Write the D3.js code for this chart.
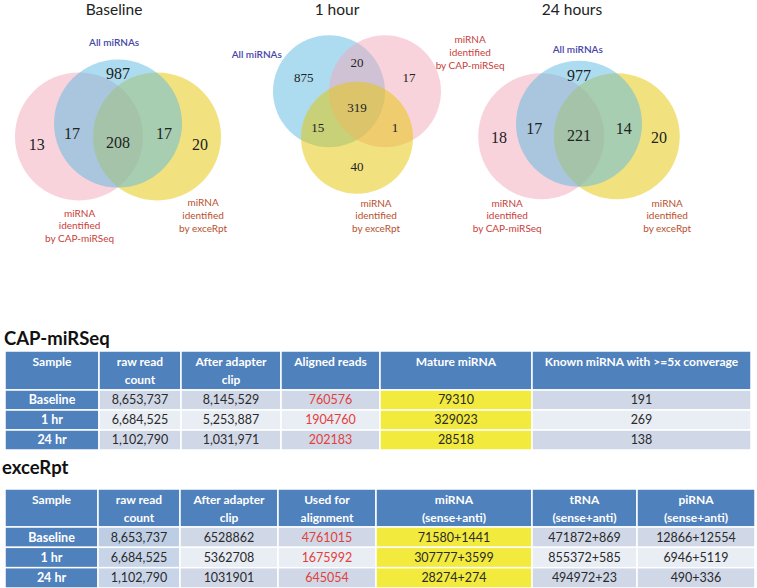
<!DOCTYPE html>
<html><head><meta charset="utf-8">
<script src="https://cdn.jsdelivr.net/npm/d3@7"></script>
<style>body{margin:0;background:#fff}svg{display:block}</style>
</head><body>
<svg id="c" width="757" height="588"></svg>
<script>
// ---------- DATA ----------
const vennTitles = ["Baseline", "1 hour", "24 hours"];
// region counts: [blueOnly, pinkOnly, yellowOnly, bluePink, blueYellow, pinkYellow, all]
const baselineCounts = [987, 13, 20, 17, 17, null, 208];
const oneHourCounts  = [875, 17, 40, 20, 15, 1, 319];
const day24Counts    = [977, 18, 20, 17, 14, null, 221];
const setAll = "All miRNAs";
const setCap = ["miRNA", "identified", "by CAP-miRSeq"];
const setExc = ["miRNA", "identified", "by exceRpt"];

const capTitle = "CAP-miRSeq";
const capHeaders = [["Sample"], ["raw read", "count"], ["After adapter", "clip"], ["Aligned reads"], ["Mature miRNA"], ["Known miRNA with >=5x converage"]];
const samples = ["Baseline", "1 hr", "24 hr"];
const capRaw = ["8,653,737", "6,684,525", "1,102,790"];
const capClip = ["8,145,529", "5,253,887", "1,031,971"];
const capAligned = ["760576", "1904760", "202183"];
const capMature = ["79310", "329023", "28518"];
const capKnown = ["191", "269", "138"];

const excTitle = "exceRpt";
const excHeaders = [["Sample"], ["raw read", "count"], ["After adapter", "clip"], ["Used for", "alignment"], ["miRNA", "(sense+anti)"], ["tRNA", "(sense+anti)"], ["piRNA", "(sense+anti)"]];
const excRaw = ["8,653,737", "6,684,525", "1,102,790"];
const excClip = ["6528862", "5362708", "1031901"];
const excUsed = ["4761015", "1675992", "645054"];
const excMirna = ["71580+1441", "307777+3599", "28274+274"];
const excTrna = ["471872+869", "855372+585", "494972+23"];
const excPirna = ["12866+12554", "6946+5119", "490+336"];

// ---------- LAYOUT / STYLE ----------
const svg = d3.select("#c");
const FONT = "Lato, 'Open Sans', sans-serif";
const SERIF = "'Liberation Serif', 'Times New Roman', serif";
const COL = {blue:"#5bb9e1", pink:"#f3a7b9", yellow:"#e5c500"};
const ALPHA = 0.5;

// Venn layouts (unit = radius)
const vennLayouts = [
  {cx:118, cy:130, r:64, titleX:114, numSize:16,
   circles:{pink:[-0.61,0.1], yellow:[0.61,0.1], blue:[0,-0.1]}, order:["pink","yellow","blue"],
   lab:[[0,-0.88],[-1.27,0.22],[1.28,0.22],[-0.72,0.06],[0.72,0.06],null,[0,0.19]],
   allLab:[-0.06,-1.36], capLab:[-0.6,1.30,0], excLab:[1.33,1.14,0]},
  {cx:357, cy:107, r:56, titleX:337, numSize:13,
   circles:{blue:[-0.5,-0.28], pink:[0.5,-0.28], yellow:[0,0.55]}, order:["blue","pink","yellow"],
   lab:[[-0.95,-0.53],[0.93,-0.53],[0,1.07],[0,-0.8],[-0.7,0.37],[0.68,0.37],[0,0]],
   allLab:[-1.79,-0.93], capLab:[2.02,-1.2,0], excLab:[0.34,1.72,0]},
  {cx:579, cy:130, r:63, titleX:572, numSize:16,
   circles:{pink:[-0.6,0.1], yellow:[0.6,0.1], blue:[0,-0.1]}, order:["pink","yellow","blue"],
   lab:[[0,-0.87],[-1.27,0.12],[1.27,0.12],[-0.71,-0.03],[0.71,-0.03],null,[0,0.08]],
   allLab:[-0.02,-1.27], capLab:[-1.14,1.16,0], excLab:[1.4,1.16,0]}
];
const allCounts = [baselineCounts, oneHourCounts, day24Counts];

vennLayouts.forEach((L, i) => {
  const sx = d3.scaleLinear().domain([-1,1]).range([L.cx - L.r, L.cx + L.r]);
  const sy = d3.scaleLinear().domain([-1,1]).range([L.cy - L.r, L.cy + L.r]);
  const g = svg.append("g");
  g.append("text").attr("x", L.titleX).attr("y", 15).attr("text-anchor","middle")
    .attr("font-family", FONT).attr("font-size", 15.5).attr("fill","#222").text(vennTitles[i]);
  g.selectAll("circle.v").data(L.order).join("circle").attr("class","v")
    .attr("cx", d => sx(L.circles[d][0])).attr("cy", d => sy(L.circles[d][1]))
    .attr("r", L.r).attr("fill", d => COL[d]).attr("fill-opacity", ALPHA);
  allCounts[i].forEach((v, k) => {
    if (v === null) return;
    const p = L.lab[k];
    g.append("text").attr("x", sx(p[0])).attr("y", sy(p[1])).attr("dy","0.35em")
      .attr("text-anchor","middle").attr("font-family", SERIF).attr("font-size", L.numSize)
      .attr("fill","#222").text(v);
  });
  g.append("text").attr("x", sx(L.allLab[0])).attr("y", sy(L.allLab[1])).attr("dy","0.35em")
    .attr("text-anchor","middle").attr("font-family", FONT).attr("font-size", 10)
    .attr("font-weight", 600).attr("fill","#4646a8").text(setAll);
  [[L.capLab, setCap, "#c8403a"], [L.excLab, setExc, "#b8502e"]].forEach(([p, lines, c]) => {
    lines.forEach((t, j) => {
      g.append("text").attr("x", sx(p[0])).attr("y", sy(p[1]) + j*12.6).attr("dy","0.35em")
        .attr("text-anchor","middle").attr("font-family", FONT).attr("font-size", 10)
        .attr("fill", c).text(t);
    });
  });
});

// ---------- TABLES ----------
function drawTable(opts) {
  const g = svg.append("g");
  g.append("text").attr("x", opts.titleX).attr("y", opts.titleY).attr("font-family", FONT)
    .attr("font-weight", 700).attr("font-size", 18.5).attr("fill","#111").text(opts.title);
  const edges = opts.edges;
  const colX = i => edges[i], colW = i => edges[i+1] - edges[i];
  opts.headers.forEach((h, i) => {
    g.append("rect").attr("x", colX(i)).attr("y", opts.hTop).attr("width", colW(i))
      .attr("height", opts.hBot - opts.hTop).attr("fill","#4f81bd").attr("stroke","#fff").attr("stroke-width",1.5);
    h.forEach((t, j) => {
      g.append("text").attr("x", colX(i) + colW(i)/2).attr("y", opts.hLines[j])
        .attr("text-anchor","middle").attr("font-family", FONT).attr("font-weight",700)
        .attr("font-size", 12).attr("fill","#fff").text(t);
    });
  });
  const y = d3.scaleBand().domain(samples).range([opts.hBot, opts.bottom]);
  const rowFill = (r) => r % 2 === 0 ? "#d0d8e8" : "#e9edf4";
  opts.columns.forEach((col, ci) => {
    col.values.forEach((v, r) => {
      const s = samples[r];
      const isSample = ci === 0;
      let fill = isSample ? "#4f81bd" : (col.fill ? col.fill(r) : rowFill(r));
      g.append("rect").attr("x", colX(ci)).attr("y", y(s)).attr("width", colW(ci))
        .attr("height", y.bandwidth()).attr("fill", fill).attr("stroke","#fff").attr("stroke-width",1.5);
      g.append("text").attr("x", colX(ci) + colW(ci)/2).attr("y", y(s) + y.bandwidth()/2)
        .attr("dy","0.35em").attr("text-anchor","middle").attr("font-family", FONT)
        .attr("font-weight", isSample ? 700 : 400).attr("font-size", 12.5)
        .attr("fill", isSample ? "#fff" : (col.color || "#2a2a2a")).text(v);
    });
  });
}

const RED = "#e2403a", YEL = "#f2ea3c";
drawTable({
  title: capTitle, titleX: 4, titleY: 345,
  edges: [5, 99, 181, 281, 380, 532, 751],
  hTop: 351, hBot: 390, hLines: [366, 384], bottom: 450,
  headers: capHeaders,
  columns: [
    {values: samples}, {values: capRaw}, {values: capClip},
    {values: capAligned, color: RED},
    {values: capMature, fill: () => YEL},
    {values: capKnown}
  ]
});
drawTable({
  title: excTitle, titleX: 2, titleY: 474,
  edges: [5, 98, 180, 278, 376, 532, 637, 755],
  hTop: 489, hBot: 527, hLines: [504, 522], bottom: 588,
  headers: excHeaders,
  columns: [
    {values: samples}, {values: excRaw, fill: r => ["#bccde4","#c8d5e9","#c8d5e9"][r]}, {values: excClip},
    {values: excUsed, color: RED},
    {values: excMirna, fill: () => YEL},
    {values: excTrna}, {values: excPirna}
  ]
});
</script>
</body></html>
